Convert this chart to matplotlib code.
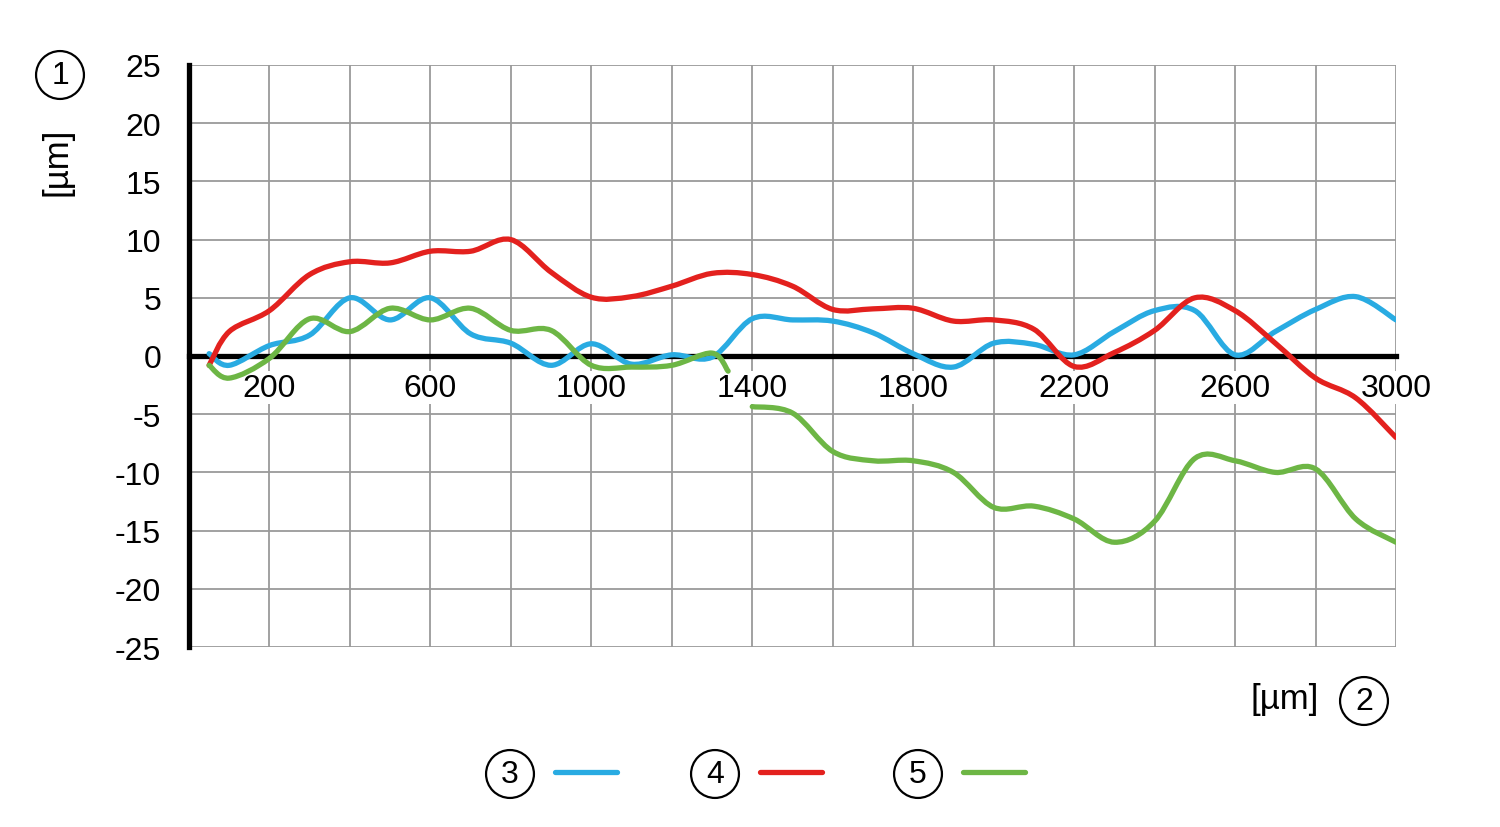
import numpy as np
import matplotlib
matplotlib.use("Agg")
import matplotlib.pyplot as plt
from matplotlib.path import Path
from matplotlib.patches import PathPatch
from matplotlib.lines import Line2D

plt.rcParams['font.family'] = ['Liberation Sans', 'DejaVu Sans']
plt.rcParams['axes.unicode_minus'] = False

# data (values in um)
x_pts = [50, 100, 200, 300, 400, 500, 600, 700, 800, 900, 1000, 1100, 1200, 1300, 1400,
         1500, 1600, 1700, 1800, 1900, 2000, 2100, 2200, 2300, 2400, 2500, 2600, 2700,
         2800, 2900, 3000]
blue_y = [0.2, -0.8, 0.9, 1.8, 5, 3.1, 5, 1.9, 1.1, -0.8, 1.05, -0.7, 0.1, -0.1, 3.2,
          3.1, 3, 2, 0.2, -0.95, 1.1, 1, 0.1, 2.1, 3.9, 3.9, 0.1, 2.1, 4, 5.1, 3.1]
red_y = [-0.8, 2.1, 3.9, 7, 8.1, 8, 9, 9, 10, 7.2, 5.05, 5.1, 6, 7.1, 7,
         6, 4, 4.05, 4.1, 3, 3.1, 2.3, -0.9, 0.3, 2.2, 5.0, 3.9, 1.1, -1.9, -3.6, -7]
green_x1 = [50, 100, 200, 300, 400, 500, 600, 700, 800, 900, 1000, 1100, 1200, 1300, 1340]
green_y1 = [-0.8, -1.9, -0.2, 3.2, 2.1, 4.1, 3.1, 4.1, 2.2, 2.2, -0.8, -0.95, -0.8, 0.25, -1.3]
green_x2 = [1400, 1500, 1600, 1700, 1800, 1900, 2000, 2100, 2200, 2300, 2400, 2500, 2600,
            2700, 2800, 2900, 3000]
green_y2 = [-4.35, -4.9, -8.2, -9, -9, -10, -13, -12.9, -14, -16, -14.2, -8.8, -9,
            -10, -9.7, -14, -16]

x_labels = [200, 600, 1000, 1400, 1800, 2200, 2600, 3000]

BLUE = '#29abe2'
RED = '#e3211e'
GREEN = '#6db645'
FS = 23


def smooth_path(xs, ys):
    # excel-like smoothed line: bezier segments with catmull-rom control points
    p = np.column_stack([xs, ys]).astype(float)
    n = len(p)
    verts = [p[0]]
    codes = [Path.MOVETO]
    for i in range(n - 1):
        p0 = p[i - 1] if i > 0 else p[i]
        p1 = p[i]
        p2 = p[i + 1]
        p3 = p[i + 2] if i + 2 < n else p[i + 1]
        c1 = p1 + (p2 - p0) / 6
        c2 = p2 - (p3 - p1) / 6
        verts += [c1, c2, p2]
        codes += [Path.CURVE4] * 3
    return Path(verts, codes)


fig = plt.figure(figsize=(15, 8.28), dpi=100)
ax = fig.add_axes([189 / 1500, 1 - 648 / 828, (1396 - 189) / 1500, (648 - 66) / 828])

ax.set_xlim(0, 3000)
ax.set_ylim(-25, 25)
ax.set_yticks(range(-25, 26, 5))
xt = list(range(200, 3001, 200))
ax.set_xticks(xt)
ax.set_xticklabels([str(v) if v in x_labels else '' for v in xt])
ax.grid(True, color='#9a9a9a', lw=1.3)
ax.set_axisbelow(True)

ax.spines['top'].set_visible(False)
ax.spines['right'].set_visible(False)
ax.spines['bottom'].set_position(('data', 0))
ax.spines['bottom'].set_linewidth(3.8)
ax.spines['left'].set_linewidth(3.8)
ax.tick_params(length=0, labelsize=FS)
ax.tick_params(axis='x', pad=12)
ax.tick_params(axis='y', pad=20)
for lbl in ax.get_xticklabels():
    lbl.set_bbox(dict(facecolor='white', edgecolor='none', pad=1))

for xs, ys, c in [(x_pts, blue_y, BLUE), (x_pts, red_y, RED),
                  (green_x1, green_y1, GREEN), (green_x2, green_y2, GREEN)]:
    ax.add_patch(PathPatch(smooth_path(xs, ys), fill=False, edgecolor=c, lw=3.8,
                           capstyle='round', joinstyle='round', zorder=3))

# axis labels and circled numbers
circ = dict(boxstyle='circle,pad=0.28', fc='white', ec='black', lw=1.6)
fig.text(57 / 1500, 1 - 162 / 828, '[µm]', rotation=90, ha='center', va='center', fontsize=25)
fig.text(60 / 1500, 1 - 76 / 828, '1', ha='center', va='center', fontsize=FS, bbox=circ)
fig.text(1285 / 1500, 1 - 700 / 828, '[µm]', ha='center', va='center', fontsize=25)
fig.text(1364 / 1500, 1 - 702 / 828, '2', ha='center', va='center', fontsize=FS, bbox=circ)

# legend
for num, cx, c in [('3', 510, BLUE), ('4', 715, RED), ('5', 918, GREEN)]:
    fig.text(cx / 1500, 1 - 775 / 828, num, ha='center', va='center', fontsize=FS, bbox=circ)
    fig.add_artist(Line2D([(cx + 45) / 1500, (cx + 107) / 1500], [1 - 773 / 828] * 2,
                          transform=fig.transFigure, color=c, lw=3.8,
                          solid_capstyle='round'))

fig.savefig('out.png', dpi=100)
